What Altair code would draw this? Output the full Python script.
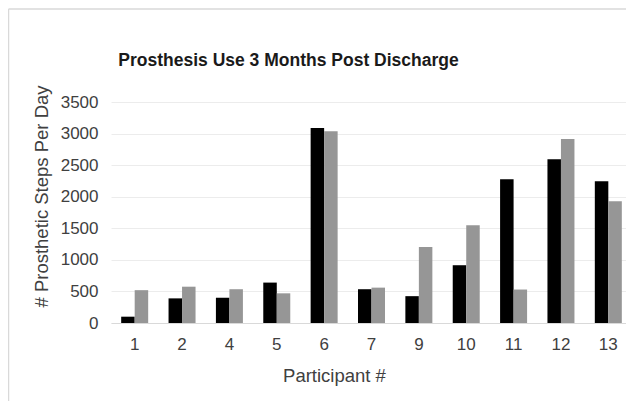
import altair as alt
import pandas as pd

participants = ["1", "2", "4", "5", "6", "7", "9", "10", "11", "12", "13"]
series_a = [100, 390, 400, 640, 3090, 535, 425, 915, 2275, 2595, 2245]
series_b = [520, 575, 535, 470, 3035, 560, 1205, 1550, 530, 2915, 1930]
series_names = ["Series1", "Series2"]
y_ticks = [0, 500, 1000, 1500, 2000, 2500, 3000, 3500]
title_text = "Prosthesis Use 3 Months Post Discharge"

rows = []
for p, a, b in zip(participants, series_a, series_b):
    rows.append({"participant": p, "series": series_names[0], "steps": a})
    rows.append({"participant": p, "series": series_names[1], "steps": b})
df = pd.DataFrame(rows)

W, H = 515, 221
XR = 521
FONT = "Liberation Sans"

bars = alt.Chart(df).mark_bar().encode(
    x=alt.X("participant:N", sort=participants,
            scale=alt.Scale(paddingInner=0.43, paddingOuter=0.215, range=[0, XR]),
            axis=alt.Axis(title="Participant #", labelAngle=0, ticks=False,
                          domainColor="#d9d9d9", domainWidth=1.2,
                          labelPadding=13, labelFontSize=17, labelColor="#404040",
                          labelFont=FONT, titleFont=FONT, titleFontSize=18.5,
                          titleFontWeight="normal", titleColor="#404040",
                          titleX=223, titleY=52, titleBaseline="middle",
                          titleAlign="center", grid=False)),
    xOffset=alt.XOffset("series:N", sort=series_names,
                        scale=alt.Scale(paddingInner=0, paddingOuter=0)),
    y=alt.Y("steps:Q", scale=alt.Scale(domain=[0, 3500], nice=False),
            axis=alt.Axis(title="# Prosthetic Steps Per Day", values=y_ticks,
                          format="d",
                          domain=False, ticks=False, gridColor="#ececec",
                          labelPadding=13, labelFontSize=17, labelColor="#404040",
                          labelFont=FONT, titleFont=FONT, titleFontSize=18.5,
                          titleFontWeight="normal", titleColor="#404040",
                          titleX=-70, titleY=94, titleBaseline="middle",
                          titleAlign="center")),
    color=alt.Color("series:N", sort=series_names,
                    scale=alt.Scale(domain=series_names, range=["#000000", "#969696"]),
                    legend=None),
)

one = pd.DataFrame({"t": [title_text]})

frame_left = alt.Chart(one).mark_rule(stroke="#d9d9d9", strokeWidth=1.5).encode(
    x=alt.value(-102.5), y=alt.value(-93), y2=alt.value(H + 78),
)
frame_top = alt.Chart(one).mark_rule(stroke="#d9d9d9", strokeWidth=1.5).encode(
    x=alt.value(-102.5), x2=alt.value(W), y=alt.value(-93),
)

title = alt.Chart(one).mark_text(
    font=FONT, fontSize=17.5, fontWeight="bold", color="#1a1a1a",
    align="center", baseline="alphabetic"
).encode(
    text="t:N", x=alt.value(177.5), y=alt.value(-36.5)
)

chart = alt.layer(frame_left, frame_top, bars, title).properties(
    width=W, height=H,
    autosize=alt.AutoSizeParams(type="none"),
    padding={"left": 103, "top": 94, "right": 0, "bottom": 78},
).configure_view(stroke=None)

chart.save("out.html", embed_options={"renderer": "svg", "actions": False})
